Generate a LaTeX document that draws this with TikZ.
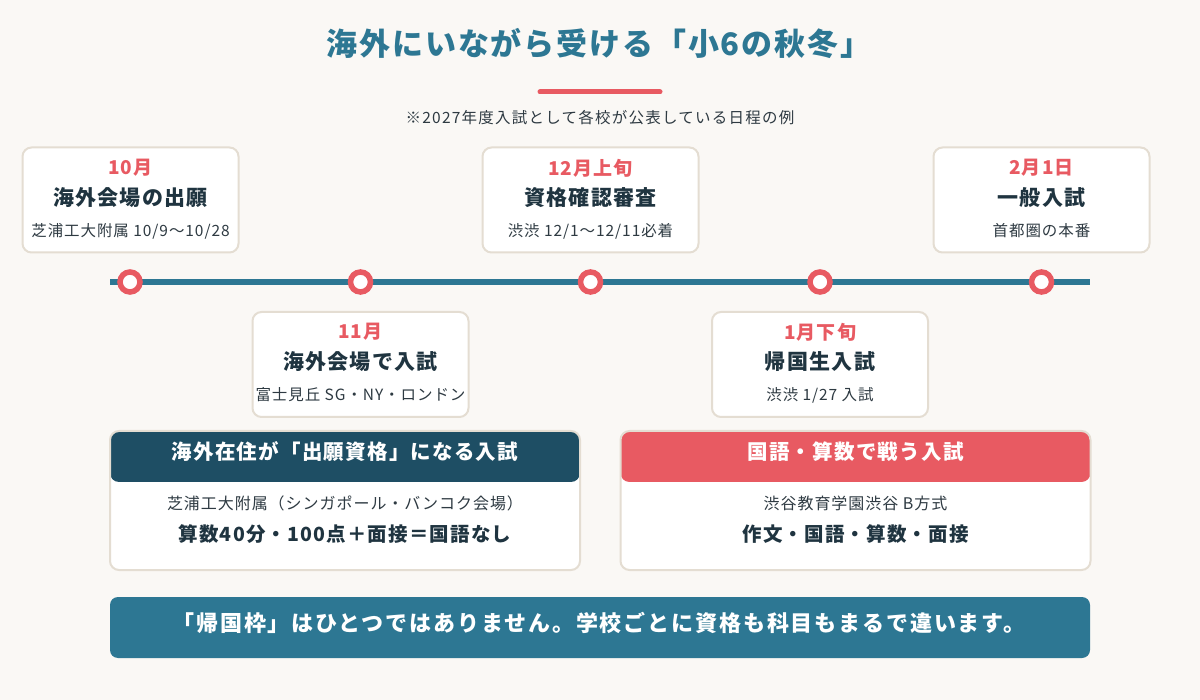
\documentclass[tikz,border=0pt]{standalone}
\usepackage{fontspec}
\setmainfont{Noto Sans CJK JP}[LetterSpace=6]
\usetikzlibrary{positioning}
\definecolor{bgcream}{HTML}{FAF8F5}
\definecolor{seablue}{HTML}{2D7793}
\definecolor{navyhead}{HTML}{1E4E64}
\definecolor{coral}{HTML}{E85A62}
\definecolor{inkdark}{HTML}{1F3440}
\definecolor{subgray}{HTML}{2E3A42}
\definecolor{cardline}{HTML}{E4DDD2}
\tikzset{
  card/.style={draw=cardline,line width=2pt,fill=white,rounded corners=9pt,
    minimum width=216pt,minimum height=105pt,inner sep=0pt},
  monthtxt/.style={text=coral,inner sep=0pt,font=\fontsize{19}{22}\selectfont\bfseries},
  titletxt/.style={text=inkdark,inner sep=0pt,font=\fontsize{21}{24}\selectfont\bfseries},
  subtxt/.style={text=subgray,inner sep=0pt,font=\fontsize{15.5}{18}\selectfont},
  bigbox/.style={draw=cardline,line width=2pt,fill=white,rounded corners=9pt,
    minimum width=470pt,minimum height=139pt,inner sep=0pt},
  hdrtxt/.style={text=white,inner sep=0pt,font=\fontsize{20.5}{24}\selectfont\bfseries},
  bodytxt/.style={text=subgray,inner sep=0pt,font=\fontsize{16}{19}\selectfont},
  boldtxt/.style={text=inkdark,inner sep=0pt,font=\fontsize{19.5}{23}\selectfont\bfseries},
  dot/.style={circle,fill=white,draw=coral,line width=5.5pt,minimum size=20pt,inner sep=0pt}
}
\begin{document}
\begin{tikzpicture}[x=1pt,y=-1pt]
  \fill[bgcream] (0,0) rectangle (1200,700);
  \useasboundingbox (0,0) rectangle (1200,700);

  % heading
  \node[text=seablue,font=\fontsize{31}{36}\selectfont\bfseries] (title) at (599,43)
    {海外にいながら受ける「小6の秋冬」};
  \coordinate (barL) at (540,92);
  \coordinate (barR) at (660,92);
  \draw[coral,line width=5pt,line cap=round] (barL) -- (barR);
  \node[text=subgray,font=\fontsize{15.5}{18}\selectfont\addfontfeature{LetterSpace=8}] (note) at (600,118)
    {※2027年度入試として各校が公表している日程の例};

  % timeline
  \coordinate (tlstart) at (110,282);
  \coordinate (tlend) at (1090,282);
  \draw[seablue,line width=5.5pt] (tlstart) -- (tlend);
  \foreach \nm/\cx in {d1/130,d2/360.5,d3/590.5,d4/820,d5/1041.5}
    \node[dot] (\nm) at (\cx,282) {};

  % cards above the line
  \node[card] (oct) at (130.5,200) {};
  \node[monthtxt] (octm) at (130.5,168) {10月};
  \node[titletxt] (octt) at (130.5,198) {海外会場の出願};
  \node[subtxt] (octs) at (130.5,231) {芝浦工大附属 10/9〜10/28};

  \node[card] (dec) at (590.5,200) {};
  \node[monthtxt] (decm) at (590.5,168) {12月上旬};
  \node[titletxt] (dect) at (590.5,198) {資格確認審査};
  \node[subtxt] (decs) at (590.5,231) {渋渋 12/1〜12/11必着};

  \node[card] (feb) at (1041.5,200) {};
  \node[monthtxt] (febm) at (1041.5,168) {2月1日};
  \node[titletxt] (febt) at (1041.5,198) {一般入試};
  \node[subtxt] (febs) at (1041.5,231) {首都圏の本番};

  % cards below the line
  \node[card] (nov) at (360.5,364.5) {};
  \node[monthtxt] (novm) at (360.5,332) {11月};
  \node[titletxt] (novt) at (360.5,362) {海外会場で入試};
  \node[subtxt] (novs) at (360.5,395) {富士見丘 SG・NY・ロンドン};

  \node[card] (jan) at (820,364.5) {};
  \node[monthtxt] (janm) at (820,332) {1月下旬};
  \node[titletxt] (jant) at (820,362) {帰国生入試};
  \node[subtxt] (jans) at (820,395) {渋渋 1/27 入試};

  % two kinds of exam
  \node[bigbox,path picture={\fill[navyhead] (path picture bounding box.north west)
    rectangle ([yshift=-51pt]path picture bounding box.north east);}] (boxA) at (345,500.5) {};
  \node[hdrtxt] (boxAh) at (345,452) {海外在住が「出願資格」になる入試};
  \node[bodytxt] (boxAb) at (345,503) {芝浦工大附属（シンガポール・バンコク会場）};
  \node[boldtxt] (boxAc) at (345,534) {算数40分・100点＋面接＝国語なし};

  \node[bigbox,path picture={\fill[coral] (path picture bounding box.north west)
    rectangle ([yshift=-51pt]path picture bounding box.north east);}] (boxB) at (855.5,500.5) {};
  \node[hdrtxt] (boxBh) at (855.5,452) {国語・算数で戦う入試};
  \node[bodytxt] (boxBb) at (855.5,503) {渋谷教育学園渋谷 B方式};
  \node[boldtxt] (boxBc) at (855.5,534) {作文・国語・算数・面接};

  % closing banner
  \node[fill=seablue,rounded corners=8pt,minimum width=980pt,minimum height=61pt,
    inner sep=0pt] (banner) at (600,627.5) {};
  \node[text=white,inner sep=0pt,font=\fontsize{22}{26}\selectfont\bfseries\addfontfeature{LetterSpace=8.5}] (bannertxt)
    at (599,623) {「帰国枠」はひとつではありません。学校ごとに資格も科目もまるで違います。};
\end{tikzpicture}
\end{document}
